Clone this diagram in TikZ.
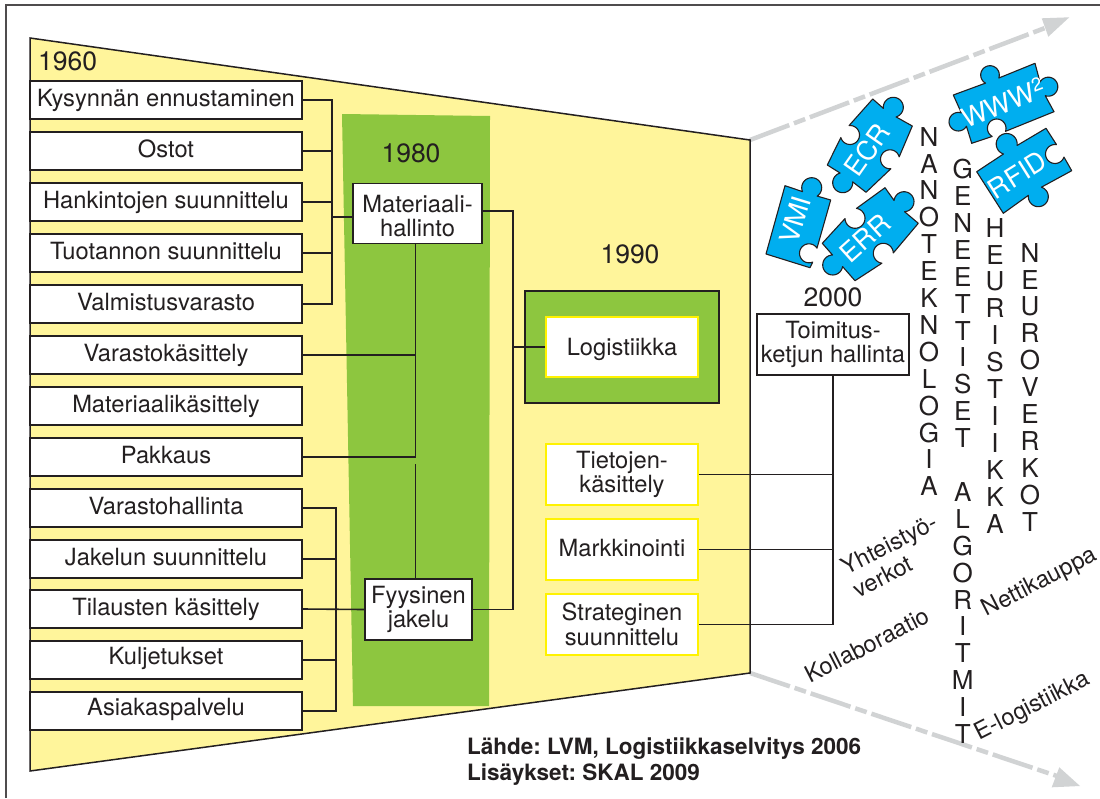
\documentclass[tikz,border=0pt]{standalone}
\usepackage{fontspec}
\setmainfont{TeX Gyre Heros}
\definecolor{ink}{HTML}{231F20}
\definecolor{paleyellow}{HTML}{FFF59B}
\definecolor{leaf}{HTML}{8DC63F}
\definecolor{sky}{HTML}{00AEEF}
\definecolor{brightyellow}{HTML}{FFF200}
\definecolor{trend}{HTML}{D1D3D4}
\def\tabout#1#2#3#4{-- plot[domain={#4-130}:{#4+130},samples=24] ({#1+#3*cos(\x)},{#2+#3*sin(\x)})}
\def\tabin#1#2#3#4{-- plot[domain={#4-50}:{#4-310},samples=24] ({#1+#3*cos(\x)},{#2+#3*sin(\x)})}
\frenchspacing
\tikzset{
  x=1pt,y=-1pt,
  every node/.style={text=ink,inner sep=0pt},
  txt/.style={font=\fontsize{23.7}{24.5}\selectfont,align=center},
  wbox/.style={draw=ink,line width=1.8pt,fill=white,txt},
  rowbox/.style={wbox,minimum width=272pt,minimum height=38pt,text height=25pt,text depth=13pt},
  lowrow/.style={text height=23pt,text depth=15pt},
  ybox/.style={draw=brightyellow,line width=1.8pt,fill=white,txt,minimum width=152pt,minimum height=61pt},
  link/.style={draw=ink,line width=1.6pt},
  year/.style={font=\fontsize{26.5}{27}\selectfont},
  slant/.style={font=\fontsize{23.5}{26}\selectfont,align=center,rotate=27},
  vword/.style={font=\fontsize{26}{26.9}\selectfont,align=center,anchor=north},
  piece/.style={fill=sky,draw=ink,line width=1.1pt,line join=round},
  ptext/.style={text=white,font=\fontsize{27}{28}\selectfont},
  trendline/.style={draw=trend,line width=4.5pt,dash pattern=on 42pt off 5pt on 12pt off 5pt},
  trendhead/.style={fill=trend,draw=none},
  source/.style={anchor=base west,font=\fontsize{22.5}{26}\selectfont\bfseries},
}
\begin{document}
\begin{tikzpicture}
\useasboundingbox (0,0) rectangle (1100,798);
% frame
\draw[draw=ink!80,line width=1.8pt] (6,798) -- (6,5) -- (1100,5);
% trapezoid and trend arrows
\coordinate (upA) at (750,140);
\coordinate (upB) at (1045,28);
\coordinate (loA) at (750,673);
\coordinate (loB) at (1060,777);
\draw[trendline] (upA) -- (upB);
\draw[trendline] (loA) -- (loB);
\fill[trendhead] (1069.3,17.3) -- (1041.7,18.3) -- (1048.3,36.7) -- cycle;
\fill[trendhead] (1080,786) -- (1051.7,787.3) -- (1059.3,767.3) -- cycle;
\draw[fill=paleyellow,draw=ink,line width=1.5pt,line join=miter] (30,38) -- (750,140) -- (750,673) -- (30,771) -- cycle;
\fill[leaf] (342,114) -- (490,116) -- (489,706) -- (353,706) -- cycle;
\node[draw=ink,line width=1.8pt,fill=leaf,minimum width=194pt,minimum height=112pt] (g90) at (622,347) {};
% years
\node[year,anchor=base west] (y60) at (38,70) {1960};
\node[year,anchor=base] (y80) at (411,162) {1980};
\node[year,anchor=base] (y90) at (630,263) {1990};
\node[year,anchor=base] (y00) at (833,306) {2000};
% left column
\node[rowbox] (b1) at (166,100) {Kysynnän ennustaminen};
\node[rowbox] (b2) at (166,151) {Ostot};
\node[rowbox] (b3) at (166,202) {Hankintojen suunnittelu};
\node[rowbox] (b4) at (166,253) {Tuotannon suunnittelu};
\node[rowbox] (b5) at (166,304) {Valmistusvarasto};
\node[rowbox] (b6) at (166,355) {Varastokäsittely};
\node[rowbox] (b7) at (166,406) {Materiaalikäsittely};
\node[rowbox] (b8) at (166,457) {Pakkaus};
\node[rowbox] (b9) at (166,508) {Varastohallinta};
\node[rowbox] (b10) at (166,559) {Jakelun suunnittelu};
\node[rowbox] (b11) at (166,609) {Tilausten käsittely};
\node[rowbox,lowrow] (b12) at (166,660) {Kuljetukset};
\node[rowbox,lowrow] (b13) at (166,711) {Asiakaspalvelu};
% middle and right boxes
\node[wbox,minimum width=129pt,minimum height=60pt] (mat) at (417.5,213.5) {\rule{0pt}{22pt}Materiaali-\\hallinto};
\node[wbox,minimum width=107pt,minimum height=61pt] (fyy) at (418.5,609.5) {Fyysinen\\jakelu};
\node[ybox,minimum height=60pt,text height=38pt,text depth=22pt] (log) at (622,347) {Logistiikka};
\node[ybox] (tie) at (622,474.5) {Tietojen-\\käsittely};
\node[ybox,text height=37pt,text depth=24pt] (mar) at (622,549.5) {Markkinointi};
\node[ybox] (str) at (622,624.5) {Strateginen\\suunnittelu};
\node[draw=ink,line width=1.3pt,fill=white,txt,minimum width=152pt,minimum height=61pt] (toi) at (833,344.5) {Toimitus-\\ketjun hallinta};
% connectors
\coordinate (busT) at (332,100);
\coordinate (busB) at (336,508);
\coordinate (join) at (513,347);
\coordinate (split) at (415.5,464);
\draw[link] (b1.east) -| (busT |- b5.east) -- (b5.east);
\foreach \n in {b2,b3,b4} \draw[link] (\n.east) -- (busT |- \n.east);
\draw[link] (busT |- 0,217) -- (mat.west |- 0,217);
\draw[link] (b9.east) -| (busB |- b13.east) -- (b13.east);
\foreach \n in {b10,b12} \draw[link] (\n.east) -- (busB |- \n.east);
\draw[link] (b11.east) -- (fyy.west);
\draw[link] (split |- mat.south) -- (split |- b8.east) -- (b8.east);
\draw[link] (b6.east) -- (split |- b6.east);
\draw[link] (split) -- (split |- fyy.north);
\draw[link] (mat.east |- 0,211) -| (join |- fyy.east) -- (fyy.east);
\draw[link] (join) -- (log.west);
\draw[link] (toi.south) -- (toi.south |- str.east) -- (str.east);
\draw[link] (tie.east) -- (toi.south |- tie.east);
\draw[link] (mar.east) -- (toi.south |- mar.east);
% puzzle pieces
\path[piece] (953.3,95) \tabout{990}{75}{9.3}{-111} -- (1035,63.3) \tabout{1048.3}{86.7}{9.5}{-21} -- (1054,111.7) \tabin{996.7}{128.3}{9.3}{69} -- (971.7,143.3) \tabout{958.3}{121.7}{9.3}{159} -- cycle;
\path[piece] (976.7,171.7) \tabout{1006.7}{144}{10.5}{-122} -- (1046,128.3) \tabin{1055}{154}{9.5}{-31} -- (1071.7,170.7) \tabout{1038.3}{196.7}{10}{58} -- (1003.3,213.3) -- cycle;
\path[piece] (872.7,99) \tabout{893.3}{107.3}{10}{-56} -- (912.3,126) \tabin{890}{159.3}{9.5}{35} -- (866,192.3) \tabout{842.7}{182.7}{10}{125} -- (827.3,165) \tabin{850}{135}{9.5}{-145.5} -- cycle;
\path[piece] (785,185.7) \tabout{811.7}{187.7}{10}{-73} -- (830.7,200) \tabin{809}{253.3}{9.5}{17} -- (810,267.7) -- (766,254) -- cycle;
\path[piece] (822.3,243.3) \tabin{855}{218.3}{10}{-131.6} -- (885,187.7) \tabout{904}{201.7}{10}{-43} -- (918.3,223.3) \tabin{883.3}{253.3}{10}{48} -- (855,280.7) \tabout{832.7}{265}{10}{139} -- cycle;
\node[ptext,rotate=21] (www) at (1003,102) {WWW\textsuperscript{2}};
\node[ptext,rotate=32] (rfid) at (1017,175) {RFID};
\node[ptext,rotate=55] (ecr) at (867,150) {ECR};
\node[ptext,rotate=73] (vmi) at (795,220) {VMI};
\node[ptext,rotate=42] (err) at (865,238) {ERR};
% vertical words
\node[vword] (w1) at (929,127) {N\\A\\N\\O\\T\\E\\K\\N\\O\\L\\O\\G\\I\\A};
\node[vword] (w2) at (962.7,159) {G\\E\\N\\E\\E\\T\\T\\I\\S\\E\\T\\[26.9pt]A\\L\\G\\O\\R\\I\\T\\M\\I\\T};
\node[vword] (w3) at (995,218) {H\\E\\U\\R\\I\\S\\T\\I\\I\\K\\K\\A};
\node[vword] (w4) at (1030,243) {N\\E\\U\\R\\O\\V\\E\\R\\K\\O\\T};
% slanted labels
\node[slant,align=left] (yht) at (895,556) {Yhteistyö-\\verkot};
\node[slant] (kol) at (867,645) {Kollaboraatio};
\node[slant] (net) at (1040,583) {Nettikauppa};
\node[slant] (elo) at (1033,707) {E-logistiikka};
% source
\node[source] (src) at (467,754) {Lähde: LVM, Logistiikkaselvitys 2006};
\node[source] (src2) at (467,780) {Lisäykset: SKAL 2009};
\end{tikzpicture}
\end{document}
